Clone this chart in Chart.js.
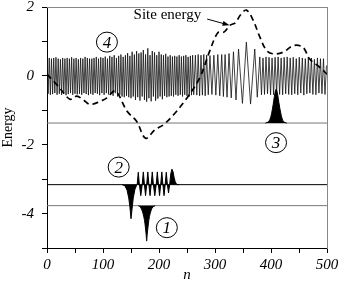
<!DOCTYPE html>
<html>
<head>
<meta charset="utf-8">
<script src="https://cdn.jsdelivr.net/npm/chart.js@4/dist/chart.umd.min.js"></script>
<style>
  html, body { margin: 0; padding: 0; background: #fff; }
  #box { width: 341px; height: 284px; }
</style>
</head>
<body>
<div id="box"><canvas id="energyChart"></canvas></div>
<script>
// site energy profile (dashed)
const siteN = [0, 20, 41, 53, 65, 77, 95, 107, 122, 143, 160, 176, 193, 208, 226, 250, 273, 291, 305, 316, 327, 337, 345, 356, 368, 380, 392, 404, 422, 440, 457, 469, 487, 500];
const siteE = [0.05, -0.3, -0.68, -0.59, -0.7, -0.83, -0.74, -0.64, -0.44, -1.03, -1.32, -1.81, -1.56, -1.42, -1.13, -0.64, -0.05, 0.74, 1.25, 1.27, 1.47, 1.55, 1.76, 1.91, 1.62, 1.13, 0.74, 0.64, 0.69, 0.88, 0.83, 0.49, 0.25, 0.05];

// state 4: extended wave, part A (n = 0, 2, 4 ... 262)
const wave4AStart = 0, wave4AStep = 2;
const wave4A = [
  0.5, -0.52, 0.52, -0.55, 0.5, -0.53, 0.52, -0.5, 0.54, -0.55,
  0.5, -0.52, 0.48, -0.55, 0.52, -0.5, 0.5, -0.56, 0.52, -0.53,
  0.5, -0.5, 0.54, -0.55, 0.5, -0.52, 0.52, -0.54, 0.48, -0.52,
  0.52, -0.55, 0.5, -0.5, 0.55, -0.53, 0.52, -0.56, 0.5, -0.52,
  0.5, -0.55, 0.52, -0.5, 0.55, -0.52, 0.5, -0.56, 0.54, -0.5,
  0.52, -0.55, 0.56, -0.5, 0.5, -0.54, 0.58, -0.52, 0.55, -0.58,
  0.6, -0.5, 0.52, -0.6, 0.58, -0.55, 0.62, -0.6, 0.55, -0.62,
  0.6, -0.58, 0.66, -0.62, 0.58, -0.65, 0.7, -0.6, 0.62, -0.7,
  0.72, -0.62, 0.65, -0.72, 0.68, -0.6, 0.75, -0.7, 0.62, -0.75,
  0.8, -0.65, 0.6, -0.74, 0.72, -0.6, 0.68, -0.72, 0.6, -0.66,
  0.7, -0.6, 0.62, -0.68, 0.6, -0.58, 0.64, -0.62, 0.56, -0.6,
  0.6, -0.58, 0.56, -0.6, 0.58, -0.55, 0.56, -0.58, 0.6, -0.55,
  0.56, -0.6, 0.58, -0.55, 0.6, -0.58, 0.55, -0.6, 0.58, -0.56,
  0.6, -0.55
];
// part B, longer wavelength around the site energy hump
const wave4BN = [265, 267.5, 270, 272.5, 275, 277.5, 280, 282.5, 285, 288, 291, 294.5, 298, 301.5, 305, 308.5, 312, 315, 318, 321.5, 325, 329, 333, 337.5, 342, 349, 356, 363.5, 371, 375.5, 380];
const wave4BE = [0.6, -0.56, 0.62, -0.58, 0.6, -0.56, 0.62, -0.58, 0.6, -0.55, 0.59, -0.54, 0.6, -0.56, 0.62, -0.58, 0.62, -0.6, 0.62, -0.62, 0.65, -0.64, 0.7, -0.7, 0.78, -0.8, 0.98, -0.82, 0.78, -0.62, 0.55];
// part C (n = 383, 385.7 ... 499)
const wave4CStart = 383, wave4CStep = 2.7;
const wave4C = [
  -0.55, 0.52, -0.54, 0.55, -0.52, 0.54, -0.55, 0.52, -0.55, 0.54,
  -0.52, 0.55, -0.54, 0.52, -0.55, 0.54, -0.52, 0.55, -0.54, 0.52,
  -0.55, 0.54, -0.52, 0.5, -0.55, 0.54, -0.5, 0.52, -0.56, 0.5,
  -0.52, 0.55, -0.5, 0.52, -0.54, 0.48, -0.55, 0.52, -0.5, 0.5,
  -0.52, 0.5, -0.54, 0.3
];

// state 3
const level3 = -1.37;
const wave3N = [390, 395, 398, 401, 404, 406, 408, 409, 410, 412, 414, 417, 420, 423, 428];
const wave3E = [-1.37, -1.34, -1.27, -1.1, -0.82, -0.6, -0.43, -0.39, -0.41, -0.55, -0.77, -1.05, -1.25, -1.34, -1.37];

// state 2
const level2 = -3.16;
const wave2N = [134, 139, 143, 146, 148, 150, 152, 154, 157, 160, 161, 163, 165, 167.5, 170, 172, 174, 176, 178, 180, 182, 184, 186, 188, 190, 192.5, 195, 197, 199, 201, 203, 205, 207, 209, 211, 213, 215, 217, 219, 221, 223, 225, 227, 229, 232, 236];
const wave2E = [-3.16, -3.19, -3.32, -3.55, -3.8, -4.15, -3.85, -3.55, -3.3, -3.18, -3.16, -2.8, -3.16, -3.48, -3.16, -2.79, -3.16, -3.48, -3.16, -2.79, -3.16, -3.48, -3.16, -2.79, -3.16, -3.48, -3.16, -2.79, -3.16, -3.48, -3.16, -2.79, -3.16, -3.48, -3.16, -2.8, -3.16, -3.4, -3.16, -2.85, -2.71, -2.78, -2.95, -3.08, -3.16, -3.16];

// state 1
const level1 = -3.77;
const wave1N = [163, 167, 170, 173, 175, 177, 178, 179, 181, 183, 186, 189, 193];
const wave1E = [-3.77, -3.82, -3.92, -4.1, -4.3, -4.6, -4.8, -4.6, -4.3, -4.08, -3.9, -3.81, -3.77];

const xTicks = [0, 100, 200, 300, 400, 500];
const yTicks = [2, 0, -2, -4];

// circled state numbers and the arrow label, in data units
const tagText = ['1', '2', '3', '4'];
const tagN = [214, 128, 409, 107];
const tagE = [-4.41, -2.65, -1.94, 0.98];
const siteLabel = 'Site energy';

const pts = (ns, es) => ns.map((n, i) => ({ x: n, y: es[i] }));
const stepped = (start, step, es) => es.map((e, i) => ({ x: start + i * step, y: e }));
const flat = v => [{ x: 0, y: v }, { x: 500, y: v }];

const wave4 = [
  ...stepped(wave4AStart, wave4AStep, wave4A),
  ...pts(wave4BN, wave4BE),
  ...stepped(wave4CStart, wave4CStep, wave4C)
];

const serif = "'Liberation Serif', 'DejaVu Serif', serif";

const notes = {
  id: 'notes',
  afterDatasetsDraw(chart) {
    const { ctx, scales: { x, y } } = chart;
    ctx.save();
    ctx.strokeStyle = '#000';
    ctx.fillStyle = '#000';
    ctx.lineWidth = 1;
    ctx.textAlign = 'center';
    ctx.textBaseline = 'middle';
    ctx.font = 'italic 17px ' + serif;
    tagText.forEach((t, i) => {
      const px = x.getPixelForValue(tagN[i]);
      const py = y.getPixelForValue(tagE[i]);
      ctx.beginPath();
      ctx.ellipse(px, py, 10.5, 10, 0, 0, Math.PI * 2);
      ctx.stroke();
      ctx.fillText(t, px, py + 1);
    });

    ctx.font = '15px ' + serif;
    ctx.fillText(siteLabel, x.getPixelForValue(215), y.getPixelForValue(1.76));

    // arrow to the dashed curve
    const x0 = x.getPixelForValue(286), y0 = y.getPixelForValue(1.65);
    const x1 = x.getPixelForValue(326), y1 = y.getPixelForValue(1.47);
    const a = Math.atan2(y1 - y0, x1 - x0);
    ctx.beginPath();
    ctx.moveTo(x0, y0);
    ctx.lineTo(x1 - 4 * Math.cos(a), y1 - 4 * Math.sin(a));
    ctx.stroke();
    ctx.beginPath();
    ctx.moveTo(x1, y1);
    ctx.lineTo(x1 - 7 * Math.cos(a) + 2.5 * Math.sin(a), y1 - 7 * Math.sin(a) - 2.5 * Math.cos(a));
    ctx.lineTo(x1 - 7 * Math.cos(a) - 2.5 * Math.sin(a), y1 - 7 * Math.sin(a) + 2.5 * Math.cos(a));
    ctx.closePath();
    ctx.fill();
    ctx.restore();
  }
};

document.addEventListener('DOMContentLoaded', () => {
  const ctx = document.getElementById('energyChart').getContext('2d');
  const thin = { pointRadius: 0, tension: 0, fill: false };

  new Chart(ctx, {
    type: 'line',
    data: {
      datasets: [
        { ...thin, data: pts(siteN, siteE), borderColor: '#000', borderWidth: 1.7, borderDash: [6, 4], tension: 0.35 },
        { ...thin, data: pts(wave3N, wave3E), borderColor: '#000', borderWidth: 1, backgroundColor: '#000', fill: { value: level3 }, tension: 0.3 },
        { ...thin, data: pts(wave2N, wave2E), borderColor: '#000', borderWidth: 1, backgroundColor: '#000', fill: { value: level2 } },
        { ...thin, data: pts(wave1N, wave1E), borderColor: '#000', borderWidth: 1, backgroundColor: '#000', fill: { value: level1 }, tension: 0.3 },
        { ...thin, data: wave4, borderColor: '#111', borderWidth: 0.8 },
        { ...thin, data: flat(level3), borderColor: '#777', borderWidth: 1 },
        { ...thin, data: flat(level2), borderColor: '#000', borderWidth: 1 },
        { ...thin, data: flat(level1), borderColor: '#777', borderWidth: 1 }
      ]
    },
    options: {
      responsive: true,
      maintainAspectRatio: false,
      animation: false,
      layout: { padding: { top: 7, right: 14, left: 0, bottom: 0 } },
      plugins: {
        legend: { display: false },
        tooltip: { enabled: false }
      },
      scales: {
        x: {
          type: 'linear',
          min: 0,
          max: 500,
          afterFit: s => { s.height = 36; s.paddingRight = 0; },
          border: { color: '#000', width: 1 },
          grid: { drawOnChartArea: false, tickLength: 5, color: '#000' },
          ticks: {
            stepSize: 50,
            autoSkip: false,
            maxRotation: 0,
            padding: 3,
            color: '#000',
            font: { family: serif, size: 15, style: 'italic' },
            callback: v => xTicks.includes(v) ? String(v) : ''
          },
          title: { display: true, text: 'n', color: '#000', padding: 0, font: { family: serif, size: 15, style: 'italic' } }
        },
        y: {
          min: -5,
          max: 2,
          afterFit: s => { s.width = 47; s.paddingTop = 0; s.paddingBottom = 0; },
          border: { color: '#000', width: 1 },
          grid: { drawOnChartArea: false, tickLength: 5, color: '#000' },
          ticks: {
            stepSize: 1,
            autoSkip: false,
            padding: 8,
            color: '#000',
            font: { family: serif, size: 15, style: 'italic' },
            callback: v => yTicks.includes(v) ? String(v) : ''
          },
          title: { display: true, text: 'Energy', color: '#000', padding: 0, font: { family: serif, size: 14 } }
        },
        xTop: {
          type: 'linear',
          position: 'top',
          min: 0,
          max: 500,
          afterFit: s => { s.height = 0; },
          border: { color: '#888', width: 1 },
          grid: { drawOnChartArea: false, drawTicks: false },
          ticks: { display: false }
        },
        yRight: {
          position: 'right',
          min: -5,
          max: 2,
          afterFit: s => { s.width = 0; },
          border: { color: '#888', width: 1 },
          grid: { drawOnChartArea: false, drawTicks: false },
          ticks: { display: false }
        }
      }
    },
    plugins: [notes]
  });
});
</script>
</body>
</html>
